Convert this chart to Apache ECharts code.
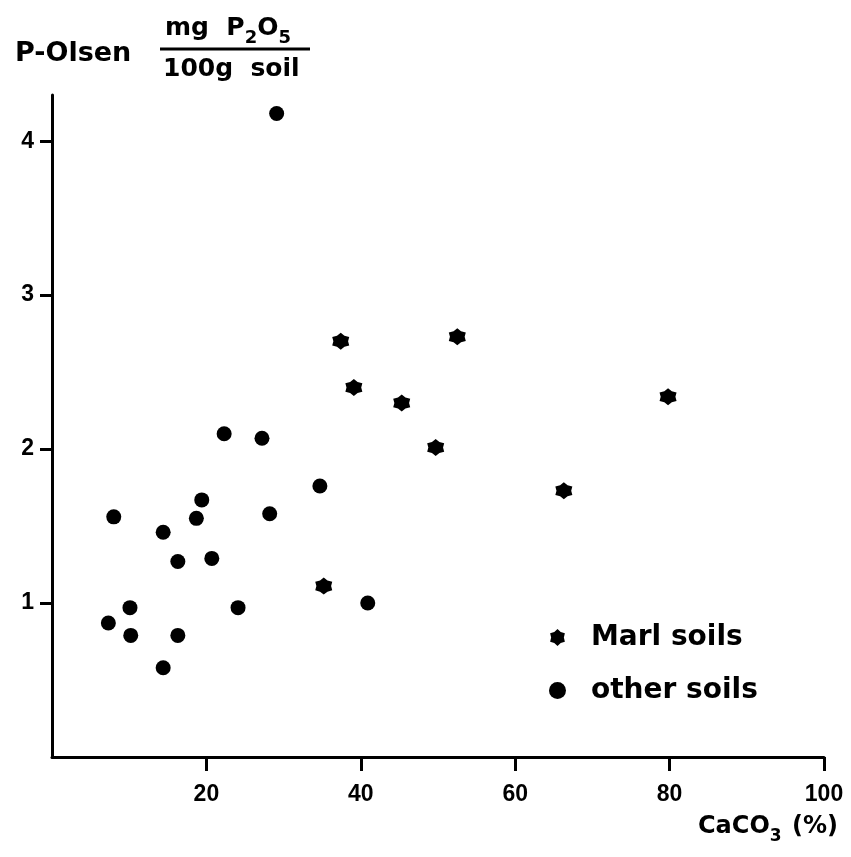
<!DOCTYPE html>
<html>
<head>
<meta charset="utf-8">
<script src="https://cdn.jsdelivr.net/npm/echarts@6/dist/echarts.min.js"></script>
<style>
html,body{margin:0;padding:0;background:#fff;}
#chart{width:851px;height:857px;}
</style>
</head>
<body>
<div id="chart"></div>
<script>
// CaCO3 (%) and P-Olsen (mg P2O5 / 100g soil)
const marlX = [37.4, 52.5, 39.1, 45.3, 49.7, 79.8, 66.3, 35.2];
const marlY = [2.70, 2.73, 2.40, 2.30, 2.01, 2.34, 1.73, 1.11];
const otherX = [29.1, 22.3, 27.2, 34.7, 19.4, 8.0, 18.7, 28.2, 14.4, 16.3, 20.7, 10.1, 24.1, 7.3, 10.2, 16.3, 14.4, 40.9];
const otherY = [4.18, 2.10, 2.07, 1.76, 1.67, 1.56, 1.55, 1.58, 1.46, 1.27, 1.29, 0.97, 0.97, 0.87, 0.79, 0.79, 0.58, 1.00];
const xTicks = [20, 40, 60, 80, 100];
const yTicks = [1, 2, 3, 4];
const seriesNames = ['Marl soils', 'other soils'];

// chunky six-pointed star
const starPath = 'path://M50 0 L69 17.5 L93.3 25 L87.5 50 L93.3 75 L69 82.5 L50 100 L31 82.5 L6.7 75 L12.5 50 L6.7 25 L31 17.5 Z';
const zip = (a, b) => a.map((v, i) => [v, b[i]]);

const chart = echarts.init(document.getElementById('chart'));
const tickFont = { fontFamily: 'Liberation Sans', fontWeight: 'bold', fontSize: 23, color: '#000' };

chart.setOption({
  animation: false,
  backgroundColor: '#fff',
  grid: { left: 52, right: 27, top: 95, bottom: 100, containLabel: false },
  xAxis: {
    type: 'value', min: 0, max: 100,
    axisLine: { show: true, onZero: false, lineStyle: { color: '#000', width: 3 } },
    axisTick: { show: true, customValues: xTicks, length: 14, lineStyle: { color: '#000', width: 3 } },
    axisLabel: Object.assign({ customValues: xTicks, margin: 26 }, tickFont),
    splitLine: { show: false }
  },
  yAxis: {
    type: 'value', min: 0, max: 4.3,
    axisLine: { show: true, onZero: false, lineStyle: { color: '#000', width: 3 } },
    axisTick: { show: true, customValues: yTicks, length: 12, lineStyle: { color: '#000', width: 3 } },
    axisLabel: Object.assign({ customValues: yTicks, margin: 18 }, tickFont),
    splitLine: { show: false }
  },
  legend: {
    orient: 'vertical', left: 544, top: 617,
    itemWidth: 17, itemHeight: 17, itemGap: 22,
    data: [
      { name: seriesNames[0], icon: starPath, itemStyle: { color: '#000', opacity: 1 } },
      { name: seriesNames[1], icon: 'circle', itemStyle: { color: '#000', opacity: 1 } }
    ],
    textStyle: { fontFamily: 'DejaVu Sans', fontWeight: 'bold', fontSize: 28, color: '#000', lineHeight: 31, padding: [0, 0, 0, 20] },
    selectedMode: false
  },
  series: [
    {
      name: seriesNames[0], type: 'scatter', data: zip(marlX, marlY),
      symbol: starPath, symbolSize: 17, itemStyle: { color: '#000', opacity: 1 }
    },
    {
      name: seriesNames[1], type: 'scatter', data: zip(otherX, otherY),
      symbol: 'circle', symbolSize: 15, itemStyle: { color: '#000', opacity: 1 }
    }
  ],
  graphic: [
    { type: 'text', left: 15, top: 40, style: { text: 'P-Olsen', font: 'bold 27px "DejaVu Sans"', fill: '#000' } },
    { type: 'text', left: 165, top: 16, style: {
        text: '{a|mg  P}{s|2}{a|O}{s|5}',
        rich: {
          a: { font: 'bold 25px "DejaVu Sans"', fill: '#000', verticalAlign: 'bottom' },
          s: { font: 'bold 18px "DejaVu Sans"', fill: '#000', verticalAlign: 'bottom', padding: [0, 0, -6, 0] }
        } } },
    { type: 'line', shape: { x1: 160, y1: 49, x2: 310, y2: 49 }, style: { stroke: '#000', lineWidth: 3 } },
    { type: 'text', left: 163, top: 57, style: { text: '100g  soil', font: 'bold 25px "DejaVu Sans"', fill: '#000' } },
    { type: 'text', right: 13, top: 815, style: {
        text: '{a|CaCO}{s|3}{a| (%)}',
        rich: {
          a: { font: 'bold 24px "DejaVu Sans"', fill: '#000', verticalAlign: 'bottom' },
          s: { font: 'bold 17px "DejaVu Sans"', fill: '#000', verticalAlign: 'bottom', padding: [0, 2, -6, 0] }
        } } }
  ]
});
</script>
</body>
</html>
